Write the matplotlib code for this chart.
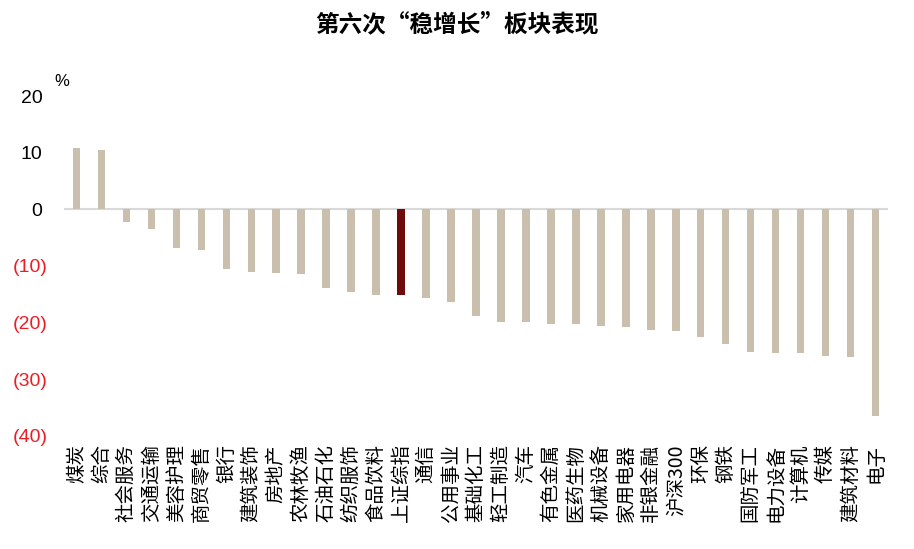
import matplotlib
matplotlib.use("Agg")
import matplotlib.pyplot as plt
import matplotlib.transforms as mtransforms

categories = ["煤炭", "综合", "社会服务", "交通运输", "美容护理", "商贸零售", "银行", "建筑装饰",
              "房地产", "农林牧渔", "石油石化", "纺织服饰", "食品饮料", "上证综指", "通信", "公用事业",
              "基础化工", "轻工制造", "汽车", "有色金属", "医药生物", "机械设备", "家用电器", "非银金融",
              "沪深300", "环保", "钢铁", "国防军工", "电力设备", "计算机", "传媒", "建筑材料", "电子"]
values = [10.9, 10.4, -2.2, -3.4, -6.8, -7.2, -10.6, -11.0,
          -11.2, -11.4, -13.9, -14.6, -15.2, -15.2, -15.6, -16.3,
          -18.9, -19.9, -19.9, -20.3, -20.3, -20.6, -20.8, -21.3,
          -21.5, -22.6, -23.7, -25.2, -25.4, -25.4, -25.8, -26.1, -36.4]
highlight = "上证综指"
yticks = [20, 10, 0, -10, -20, -30, -40]
ytick_labels = ["20", "10", "0", "(10)", "(20)", "(30)", "(40)"]
title = "第六次“稳增长”板块表现"
unit = "%"

cjk = ["Noto Sans CJK SC", "DejaVu Sans"]
num_font = ["Liberation Sans", "DejaVu Sans"]

fig = plt.figure(figsize=(9.14, 5.49), dpi=100)
ax = fig.add_axes([64 / 914, 1 - 436 / 549, (888 - 64) / 914, (436 - 96) / 549])

base_color = "#C9BFAC"
hl_color = "#6E0B0B"
colors = [hl_color if c == highlight else base_color for c in categories]
x = list(range(len(categories)))
ax.bar(x, values, width=0.3, color=colors, zorder=2)
ax.axhline(0, color="#D9D9D9", lw=1.5, zorder=1)

ax.set_xlim(-0.5, len(categories) - 0.5)
ax.set_ylim(-40, 20)
for s in ax.spines.values():
    s.set_visible(False)

ax.set_yticks(yticks)
ax.set_yticklabels(ytick_labels, fontfamily=num_font, fontsize=14)
ax.tick_params(axis="y", length=0, pad=12)
for lab, v in zip(ax.get_yticklabels(), yticks):
    if v < 0:
        lab.set_color("#EE1C25")
    else:
        lab.set_color("black")
        lab.set_transform(lab.get_transform() +
                          mtransforms.ScaledTranslation(-5 / 100, 0, fig.dpi_scale_trans))

ax.set_xticks(x)
ax.set_xticklabels(categories, rotation=90, fontfamily=cjk, fontsize=14, ha="center", va="top")
ax.tick_params(axis="x", length=0, pad=6)

fig.text(457 / 914, 1 - 24 / 549, title, ha="center", va="center",
         fontfamily=cjk, fontsize=17, fontweight="bold")
fig.text(62 / 914, 1 - 82 / 549, unit, ha="center", va="center",
         fontfamily=num_font, fontsize=12)

fig.savefig("out.png", dpi=100)
